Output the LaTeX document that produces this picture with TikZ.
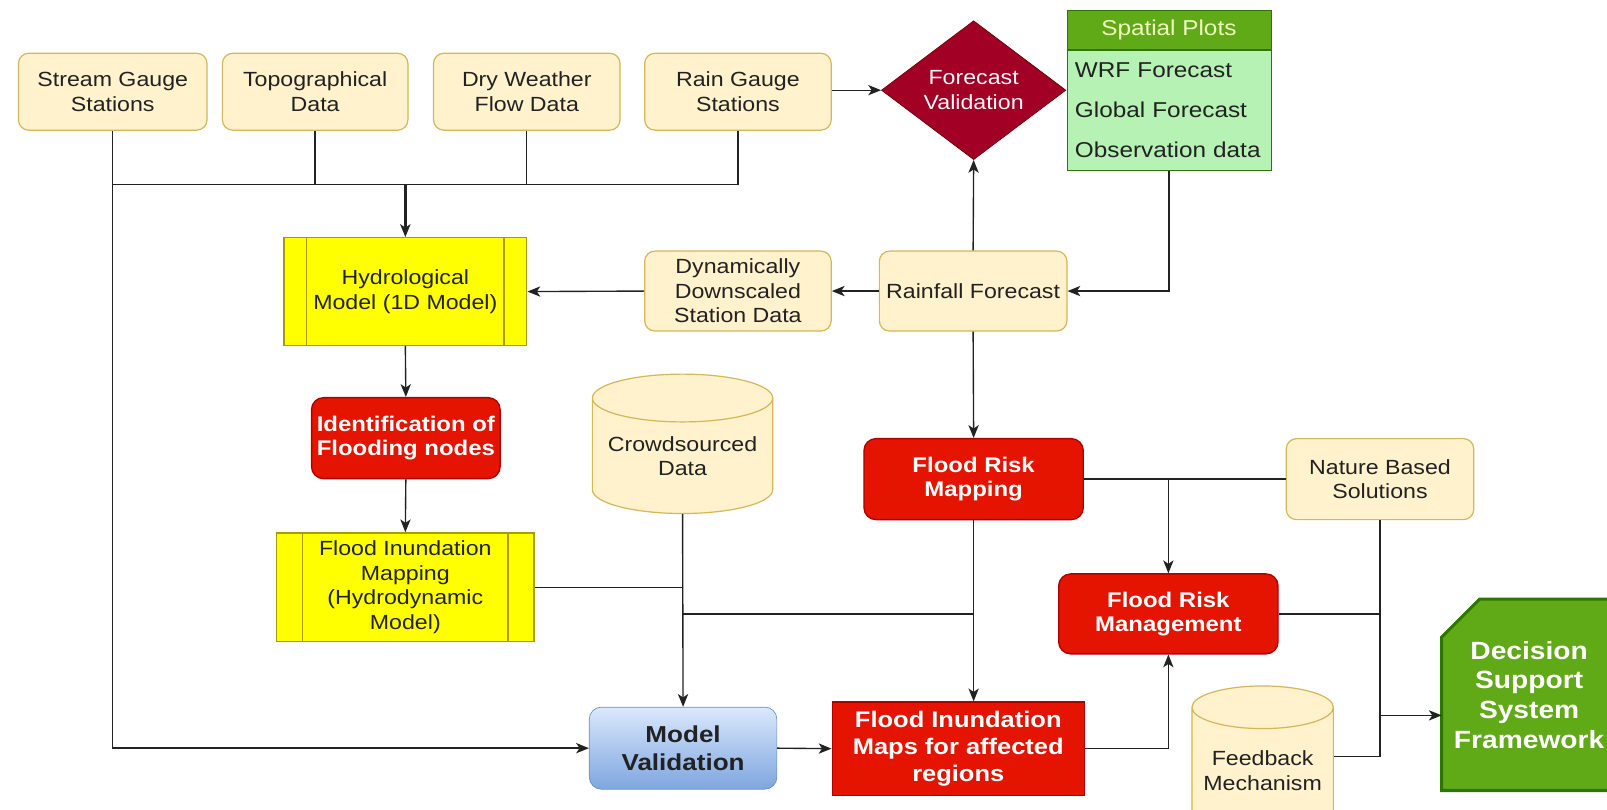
\documentclass[tikz,border=0pt]{standalone}
\usepackage{fontspec}
\setmainfont{Liberation Sans}[FakeStretch=1.13]
\usetikzlibrary{arrows.meta, positioning, calc, shapes.geometric, backgrounds}
\definecolor{creamfill}{HTML}{FFF2CC}
\definecolor{creamline}{HTML}{D6B656}
\definecolor{wine}{HTML}{A20025}
\definecolor{wineline}{HTML}{6F0000}
\definecolor{leaf}{HTML}{60A917}
\definecolor{leafline}{HTML}{2D7600}
\definecolor{mint}{HTML}{B6F2B4}
\definecolor{lemon}{HTML}{FFFF00}
\definecolor{lemonline}{HTML}{A89A00}
\definecolor{alarm}{HTML}{E51400}
\definecolor{alarmline}{HTML}{B20000}
\definecolor{skytop}{HTML}{DAE8FC}
\definecolor{skybot}{HTML}{7EA6E0}
\definecolor{skyline}{HTML}{6C8EBF}
\definecolor{inkwire}{HTML}{222222}
\tikzset{
  sz/.style 2 args={minimum width=#1*0.6pt, minimum height=#2*0.6pt},
  txt/.style={font=\fontsize{12}{14.4}\selectfont, align=center, inner sep=0pt, text=inkwire},
  creambox/.style={txt, draw=creamline, fill=creamfill, line width=0.7pt, rounded corners=6pt},
  procbox/.style={txt, draw=lemonline, fill=lemon, line width=0.8pt},
  alarmbox/.style={txt, fill=alarm, draw=alarmline, line width=0.8pt, text=white,
                   font=\fontsize{12.4}{14.4}\selectfont\bfseries},
  store/.style={txt, cylinder, shape border rotate=90, aspect=0.32, draw=creamline,
                fill=creamfill, line width=0.7pt},
  wire/.style={draw=inkwire, line width=0.8pt},
  arr/.style={wire, -{Stealth[length=7.5pt, width=6pt, inset=2pt]}},
}

\begin{document}
\begin{tikzpicture}[x=0.6pt, y=-0.6pt]
  \useasboundingbox (0,0) rectangle (1568,790);
  \node[creambox, sz={184}{75}] (sg)   at (110,89.5) {Stream Gauge\\Stations};
  \node[creambox, sz={181}{75}] (topo) at (307.5,89.5) {Topographical\\Data};
  \node[creambox, sz={182}{75}] (dry)  at (514,89.5) {Dry Weather\\Flow Data};
  \node[creambox, sz={182}{75}] (rain) at (720,89.5) {Rain Gauge\\Stations};
  \node[txt, diamond, sz={180}{131}, fill=wine, draw=wineline, text=white!90!pink] (fval) at (950,88)
       {Forecast\\Validation};
  \node[txt, sz={199}{38}, fill=leaf, draw=leafline, text=white!75!lime,
        font=\fontsize{12.6}{14.4}\selectfont] (plotshd) at (1140.5,29) {Spatial Plots};
  \node[txt, sz={199}{118}, fill=mint, draw=leafline, anchor=north, align=left, text width=110pt,
        font=\fontsize{12.6}{14.4}\selectfont]
       (plots) at (plotshd.south) {WRF Forecast\\[9pt]Global Forecast\\[9pt]Observation data};
  \node[creambox, sz={183}{78}] (rfc) at (949.5,284) {Rainfall Forecast};
  \node[creambox, sz={182}{78}] (dds) at (720,284) {Dynamically\\Downscaled\\Station Data};
  \node[procbox, sz={237}{105}] (hyd) at (395.5,284.5) {Hydrological\\Model (1D Model)};
  \node[alarmbox, sz={184}{79}, rounded corners=7pt] (ident) at (396,427.5) {Identification of\\Flooding nodes};
  \node[procbox, sz={251}{106}] (fim) at (395.5,573) {Flood Inundation\\Mapping\\(Hydrodynamic\\Model)};
  \foreach \n/\d in {hyd/13.8pt, fim/15.6pt} {
    \draw[draw=lemonline, line width=0.8pt] ([xshift=\d]\n.north west) -- ([xshift=\d]\n.south west);
    \draw[draw=lemonline, line width=0.8pt] ([xshift=-\d]\n.north east) -- ([xshift=-\d]\n.south east);
  }
  \node[store, sz={176}{136}] (crowd) at (666,445) {Crowdsourced\\Data};
  \node[alarmbox, sz={214}{79}, rounded corners=7pt] (frmap) at (950,467.5) {Flood Risk\\Mapping};
  \node[creambox, sz={183}{79}] (nbs) at (1346.5,467.5) {Nature Based\\Solutions};
  \node[alarmbox, sz={214}{78}, rounded corners=7pt] (frm) at (1140,599) {Flood Risk\\Management};
  \node[txt, sz={183}{80}, rounded corners=7pt, top color=skytop, bottom color=skybot, draw=skyline,
        font=\fontsize{13.5}{16.2}\selectfont\bfseries] (mval) at (666.5,730) {Model\\Validation};
  \node[alarmbox, sz={246}{91}, font=\fontsize{13.2}{16}\selectfont\bfseries] (fimaps) at (935,730.5)
       {Flood Inundation\\Maps for affected\\regions};
  \node[store, sz={138}{144}, aspect=0.36] (fb) at (1232,752) {Feedback\\Mechanism};
  \node[txt, sz={170}{186}, text=white, font=\fontsize{14.6}{17.4}\selectfont\bfseries] (dss) at (1492,678)
       {Decision\\Support\\System\\Framework};
  \begin{scope}[on background layer]
    \filldraw[fill=leaf, draw=leafline, line width=1.8pt] (dss.south west) -- ($(dss.north west)+(0,37)$)
      -- ($(dss.north west)+(37,0)$) -- (dss.north east) -- (dss.south east) -- cycle;
  \end{scope}

  \coordinate (bus) at (hyd.north |- 0,180);
  \draw[wire] (sg.south |- bus) -| (rain.south);
  \draw[wire] (topo.south) -- (topo.south |- bus);
  \draw[wire] (dry.south) -- (dry.south |- bus);
  \draw[arr, line width=1.4pt] (bus) -- (hyd.north);
  \draw[arr] (sg.south) |- (mval.west);
  \draw[arr] (rain.east |- fval.west) -- (fval.west);
  \draw[arr] (plots.south) |- (rfc.east);
  \draw[arr] (rfc.north) -- (fval.south);
  \draw[arr] (rfc.west) -- (dds.east);
  \draw[arr] (dds.west) -- (hyd.east);
  \draw[arr] (hyd.south) -- (ident.north);
  \draw[arr] (ident.south) -- (fim.north);
  \draw[wire] (fim.east) -- (fim.east -| crowd.south);
  \draw[arr] (crowd.south) -- (mval.north);
  \draw[wire] (crowd.south |- frm.west) -- (frmap.south |- frm.west);
  \draw[arr] (rfc.south) -- (frmap.north);
  \draw[arr] (frmap.south) -- (frmap.south |- fimaps.north);
  \draw[arr] (mval.east) -- (fimaps.west);
  \draw[arr] (fimaps.east) -| (frm.south);
  \draw[wire] (frmap.east) -- (nbs.west);
  \draw[arr] (frmap.east -| frm.north) -- (frm.north);
  \draw[wire] (frm.east) -- (frm.east -| nbs.south);
  \draw[wire] (nbs.south) |- ($(fb.east)+(0,-14)$);
  \draw[arr] (nbs.south |- 0,698) -- (dss.west |- 0,698);
\end{tikzpicture}
\end{document}
